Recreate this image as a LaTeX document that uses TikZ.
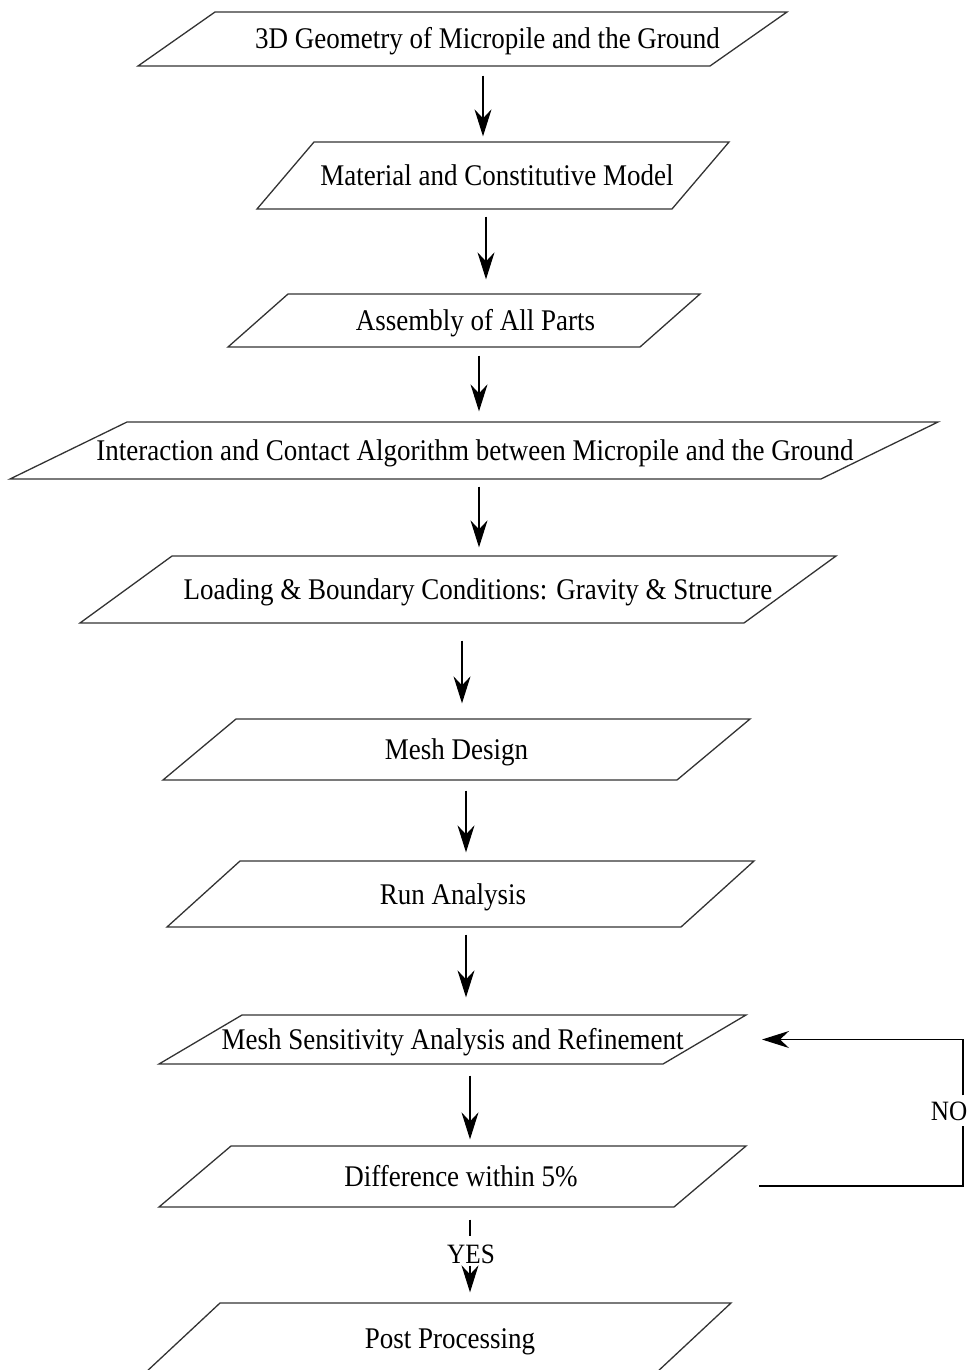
\documentclass[tikz,border=0pt]{standalone}
\usepackage{fontspec}
\setmainfont{Liberation Serif}
\newfontfamily\stepfamily{Liberation Serif}[FakeStretch=0.9]
\usepackage{tikz}
\usetikzlibrary{arrows.meta,shapes.geometric}
\newcommand{\steptext}[2]{\makebox[0pt]{\hspace*{#1pt}#2}}

\begin{document}
\begin{tikzpicture}[x=1pt,y=-1pt,>=Stealth,
  para/.style={trapezium, draw=black!80, line width=1.3pt, inner sep=0pt,
    trapezium stretches body, text height=20pt, text depth=0pt,
    font=\stepfamily\fontsize{30pt}{36pt}\selectfont},
  link/.style={line width=1.1pt},
  flow/.style={link, -{Stealth[length=27pt,width=17pt,inset=9pt]}},
  tag/.style={inner sep=2pt, font=\stepfamily\fontsize{28pt}{32pt}\selectfont}]
  \useasboundingbox (0,0) rectangle (971,1370);

  % Steps of the simulation (side angles set against the 20pt text box)
  \node[para, minimum width=649, minimum height=54,
    trapezium left angle=14.56, trapezium right angle=165.44]
    (geo) at (462.5,39) {\steptext{50}{3D Geometry of Micropile and the Ground}};
  \node[para, minimum width=472, minimum height=67,
    trapezium left angle=19.33, trapezium right angle=160.67]
    (mat) at (493,175.5) {\steptext{8}{Material and Constitutive Model}};
  \node[para, minimum width=472, minimum height=53,
    trapezium left angle=18.43, trapezium right angle=161.57]
    (asm) at (464,320.5) {\steptext{23}{Assembly of All Parts}};
  \node[para, minimum width=928, minimum height=57,
    trapezium left angle=9.70, trapezium right angle=170.30]
    (inter) at (474,450.5) {\steptext{2}{Interaction and Contact Algorithm between Micropile and the Ground}};
  \node[para, minimum width=756, minimum height=67,
    trapezium left angle=12.26, trapezium right angle=167.74]
    (load) at (458,589.5) {\steptext{40}{Loading \& Boundary Conditions: Gravity \& Structure}};
  \node[para, minimum width=587, minimum height=61,
    trapezium left angle=15.32, trapezium right angle=164.68]
    (mesh) at (456.5,749.5) {\steptext{0}{Mesh Design}};
  \node[para, minimum width=587, minimum height=66,
    trapezium left angle=15.32, trapezium right angle=164.68]
    (run) at (460.5,894) {\steptext{-15}{Run Analysis}};
  \node[para, minimum width=587, minimum height=49,
    trapezium left angle=13.55, trapezium right angle=166.45]
    (sens) at (452.5,1039.5) {\steptext{0}{Mesh Sensitivity Analysis and Refinement}};
  \node[para, minimum width=587, minimum height=61,
    trapezium left angle=15.52, trapezium right angle=164.48]
    (diff) at (452.5,1176.5) {\steptext{17}{Difference within 5\%}};
  \node[para, minimum width=586, minimum height=70,
    trapezium left angle=14.93, trapezium right angle=165.07]
    (post) at (438,1338) {\steptext{24}{Post Processing}};

  % Decision labels
  \node[tag] (no) at (949,1111) {NO};
  \node[tag] (yes) at (471,1254) {YES};

  % Flow between steps
  \draw[flow, shorten <=9, shorten >=5] ([xshift=20.5]geo.south) -- ([xshift=-10]mat.north);
  \draw[flow, shorten <=7, shorten >=14] ([xshift=-7]mat.south) -- ([xshift=22]asm.north);
  \draw[flow, shorten <=8, shorten >=10] ([xshift=15]asm.south) -- ([xshift=5]inter.north);
  \draw[flow, shorten <=7, shorten >=8] ([xshift=5]inter.south) -- ([xshift=21]load.north);
  \draw[flow, shorten <=17, shorten >=15] ([xshift=4]load.south) -- ([xshift=5.5]mesh.north);
  \draw[flow, shorten <=10, shorten >=8] ([xshift=9.5]mesh.south) -- ([xshift=5.5]run.north);
  \draw[flow, shorten <=7, shorten >=17] ([xshift=5.5]run.south) -- ([xshift=13.5]sens.north);
  \draw[flow, shorten <=11, shorten >=6] ([xshift=17.5]sens.south) -- ([xshift=17.5]diff.north);

  % YES: on to post processing
  \draw[link, shorten <=12, shorten >=6] ([xshift=-1]diff.south -| yes.north) -- ([xshift=-1]yes.north);
  \draw[flow, shorten >=10] ([xshift=-1]yes.south) -- ([xshift=32]post.north);

  % NO: back to refinement
  \draw[link, shorten >=3] ([shift={(306.5,9.5)}]diff.center) -| ([xshift=14]no.south);
  \draw[flow, shorten <=4] ([xshift=14]no.north) |- ([xshift=309.5]sens.center);
\end{tikzpicture}
\end{document}
